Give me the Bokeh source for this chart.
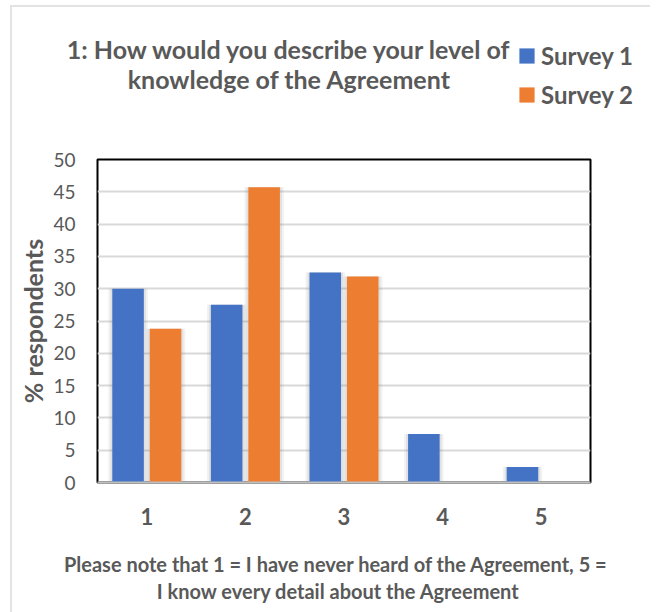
from bokeh.plotting import figure
from bokeh.layouts import column
from bokeh.models import (FactorRange, Legend, LegendItem, SingleIntervalTicker, Range1d,
                          Label, ColumnDataSource)
from bokeh.transform import dodge
from bokeh.embed import file_html
from bokeh.resources import INLINE

categories = ["1", "2", "3", "4", "5"]
survey1 = [30.0, 27.5, 32.5, 7.5, 2.4]
survey2 = [23.8, 45.7, 31.9, 0.0, 0.0]
series_names = ["Survey 1", "Survey 2"]
title_lines = ["1: How would you describe your level of", "knowledge of the Agreement"]
note_lines = ["Please note that 1 = I have never heard of  the Agreement, 5 =",
              "I know every detail about the Agreement"]
y_label = "% respondents"

FONT = "Lato"
GRAY = "#595959"
BLUE = "#4472C4"
ORANGE = "#ED7D31"

src = ColumnDataSource(dict(cat=categories, s1=survey1, s2=survey2))

HEAD_H = 140
FOOT_H = 72
MAIN_H = 612 - HEAD_H - FOOT_H


def blank(height):
    f = figure(x_range=FactorRange(*categories), y_range=Range1d(100, 101),
               width=656, height=height, output_backend="svg", toolbar_location=None,
               min_border_left=0, min_border_right=0, min_border_top=0, min_border_bottom=0)
    f.frame_width = 656
    f.frame_height = height
    f.frame_align = False
    f.axis.visible = False
    f.grid.grid_line_color = None
    f.outline_line_color = None
    f.background_fill_alpha = 0
    f.border_fill_alpha = 0
    return f


# ---------- header: title + legend ----------
head = blank(HEAD_H)
h1 = head.vbar(x="cat", top="s1", width=0.32, source=src, fill_color=BLUE, line_color=None)
h2 = head.vbar(x="cat", top="s2", width=0.32, source=src, fill_color=ORANGE, line_color=None)
for txt, y in zip(title_lines, [92, 62]):
    head.add_layout(Label(x=289, y=y, x_units="screen", y_units="screen", text=txt,
                          text_align="center", text_baseline="middle", text_font=FONT,
                          text_font_size="25px", text_font_style="bold", text_color=GRAY))
legend = Legend(items=[LegendItem(label=series_names[0], renderers=[h1]),
                       LegendItem(label=series_names[1], renderers=[h2])],
                location=(517, 31), orientation="vertical",
                label_text_font=FONT, label_text_font_size="24px", label_text_font_style="bold",
                label_text_color=GRAY, glyph_width=19, glyph_height=19, label_height=26,
                spacing=10, border_line_color=None, background_fill_alpha=0, padding=0,
                margin=0, label_standoff=5)
head.add_layout(legend)

# ---------- main chart ----------
p = figure(x_range=FactorRange(*categories), y_range=Range1d(0, 50),
           width=656, height=MAIN_H, output_backend="svg", toolbar_location=None,
           min_border_left=97, min_border_right=66, min_border_top=159 - HEAD_H,
           min_border_bottom=MAIN_H - (159 - HEAD_H) - 323)
p.frame_width = 493
p.frame_height = 323
p.frame_align = False
p.border_fill_alpha = 0

# soft shadows
for w, a in [(0.40, 0.10), (0.36, 0.15)]:
    p.vbar(x=dodge("cat", -0.19, range=p.x_range), top="s1", width=w, source=src,
           fill_color="#7f7f7f", fill_alpha=a, line_color=None)
    p.vbar(x=dodge("cat", 0.19, range=p.x_range), top="s2", width=w, source=src,
           fill_color="#7f7f7f", fill_alpha=a, line_color=None)

p.vbar(x=dodge("cat", -0.19, range=p.x_range), top="s1", width=0.32, source=src,
       fill_color=BLUE, line_color=None)
p.vbar(x=dodge("cat", 0.19, range=p.x_range), top="s2", width=0.32, source=src,
       fill_color=ORANGE, line_color=None)

p.outline_line_color = "black"
p.outline_line_width = 2
p.xgrid.grid_line_color = None
p.ygrid.grid_line_color = "#d9d9d9"
p.ygrid.grid_line_width = 2
p.yaxis.ticker = SingleIntervalTicker(interval=5)

p.yaxis.axis_line_color = None
p.yaxis.major_tick_line_color = None
p.yaxis.minor_tick_line_color = None
p.yaxis.major_label_text_font = FONT
p.yaxis.major_label_text_font_size = "19px"
p.yaxis.major_label_text_color = GRAY
p.yaxis.major_label_standoff = 16
p.yaxis.axis_label = y_label
p.yaxis.axis_label_text_font = FONT
p.yaxis.axis_label_text_font_size = "25px"
p.yaxis.axis_label_text_font_style = "bold"
p.yaxis.axis_label_text_color = GRAY
p.yaxis.axis_label_standoff = 2

p.xaxis.axis_line_color = "#bfbfbf"
p.xaxis.axis_line_width = 2
p.xaxis.major_tick_line_color = None
p.xaxis.minor_tick_line_color = None
p.xaxis.major_label_text_font = FONT
p.xaxis.major_label_text_font_size = "22px"
p.xaxis.major_label_text_font_style = "bold"
p.xaxis.major_label_text_color = GRAY
p.xaxis.major_label_standoff = 19

# ---------- footer: note ----------
foot = blank(FOOT_H)
for txt, y in zip(note_lines, [49, 22]):
    foot.add_layout(Label(x=338, y=y, x_units="screen", y_units="screen", text=txt,
                          text_align="center", text_baseline="middle", text_font=FONT,
                          text_font_size="20px", text_font_style="bold", text_color=GRAY))

layout = column(head, p, foot, spacing=0, styles={
    "background-image": "linear-gradient(#e3e3e3, #e3e3e3), linear-gradient(#e3e3e3, #e3e3e3)",
    "background-repeat": "no-repeat",
    "background-position": "10px 5px, 10px 5px",
    "background-size": "2px 100%, 640px 2px",
})

open("out.html", "w").write(file_html(layout, INLINE))
